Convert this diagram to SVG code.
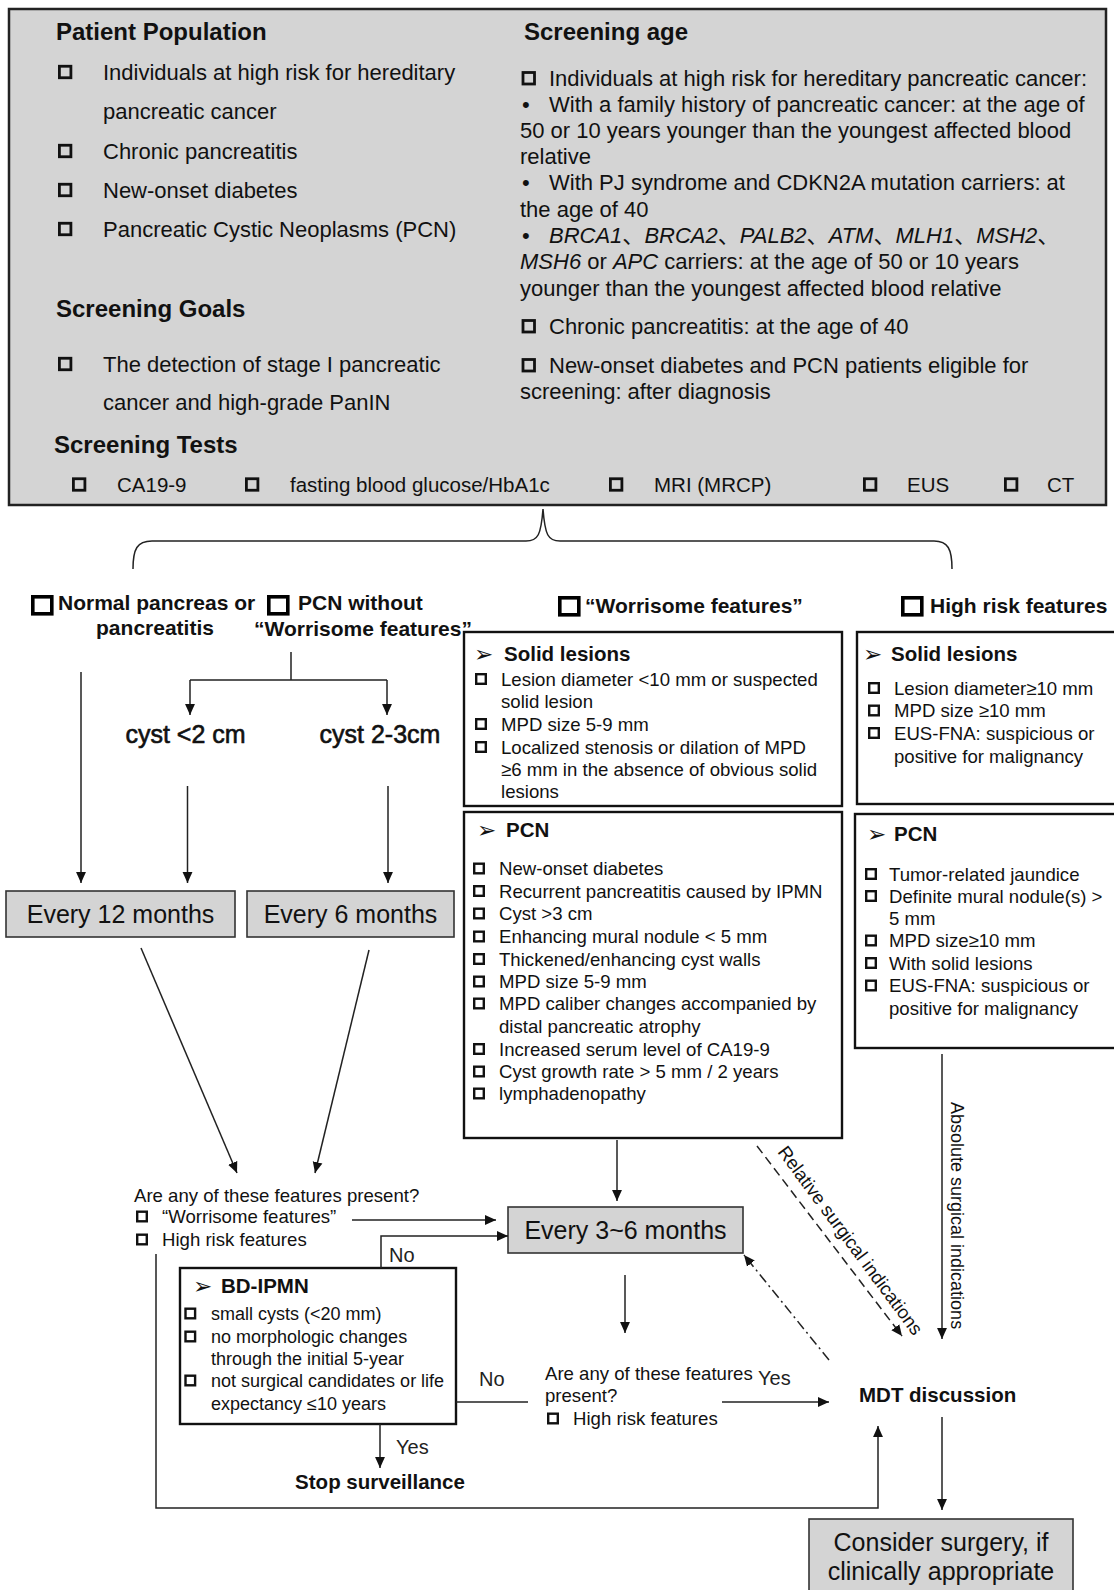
<svg xmlns="http://www.w3.org/2000/svg" xmlns:xlink="http://www.w3.org/1999/xlink" width="1114" height="1590" viewBox="0 0 1114 1590">
<style>
text{font-family:"Liberation Sans",Arial,"Noto Sans CJK SC",sans-serif;fill:#111}
.hb{font-weight:bold;font-size:24px}
.p22{font-size:22px}
.p20{font-size:20.5px}
.cat{font-weight:bold;font-size:21px}
.f{font-size:18.6px}
.f18{font-size:18px}
.fh{font-weight:bold;font-size:20.5px}
.big{font-size:25px}
.cy{font-size:25px;stroke:#111;stroke-width:0.6}
.lbl{font-size:20px;fill:#222}
.arr{font-family:"DejaVu Sans",sans-serif;font-size:23px}
.cb{fill:none;stroke:#111;stroke-width:2.8}
.cs{fill:none;stroke:#111;stroke-width:2.4}
.cbig{fill:none;stroke:#000;stroke-width:3.6}
.fb{fill:#fff;stroke:#111;stroke-width:2.4}
.gb{fill:#d4d4d4;stroke:#333;stroke-width:1.6}
.ln{fill:none;stroke:#222;stroke-width:1.5}
.it{font-style:italic}
.mid{text-anchor:middle}
</style>
<defs>
<marker id="ah" viewBox="0 0 10 10" refX="10" refY="5" markerWidth="11" markerHeight="11" markerUnits="userSpaceOnUse" orient="auto">
<path d="M0,0.5 L10,5 L0,9.5 z" fill="#111"/>
</marker>
<rect id="cs" width="9.6" height="9.6" class="cs"/>
<rect id="ct" width="11.5" height="11.5" class="cb"/>
<rect id="cg" width="19" height="17" class="cbig"/>
</defs>

<g id="top-box">
<rect x="9" y="9" width="1097" height="496" fill="#d4d4d4" stroke="#222" stroke-width="2.5"/>
<text x="56" y="40" class="hb">Patient Population</text>
<use href="#ct" x="59.4" y="66.25"/>
<text x="103" y="80" class="p22">Individuals at high risk for hereditary</text>
<text x="103" y="119" class="p22">pancreatic cancer</text>
<use href="#ct" x="59.4" y="145.25"/>
<text x="103" y="159" class="p22">Chronic pancreatitis</text>
<use href="#ct" x="59.4" y="184.25"/>
<text x="103" y="198" class="p22">New-onset diabetes</text>
<use href="#ct" x="59.4" y="223.25"/>
<text x="103" y="237" class="p22">Pancreatic Cystic Neoplasms (PCN)</text>
<text x="56" y="317" class="hb">Screening Goals</text>
<use href="#ct" x="59.4" y="358.25"/>
<text x="103" y="372" class="p22">The detection of stage I pancreatic</text>
<text x="103" y="410" class="p22">cancer and high-grade PanIN</text>
<text x="54" y="453" class="hb">Screening Tests</text>
<use href="#ct" x="73.4" y="478.75"/>
<text x="117" y="492" class="p20">CA19-9</text>
<use href="#ct" x="246.4" y="478.75"/>
<text x="290" y="492" class="p20">fasting blood glucose/HbA1c</text>
<use href="#ct" x="610.4" y="478.75"/>
<text x="654" y="492" class="p20">MRI (MRCP)</text>
<use href="#ct" x="864.4" y="478.75"/>
<text x="907" y="492" class="p20">EUS</text>
<use href="#ct" x="1005.4" y="478.75"/>
<text x="1047" y="492" class="p20">CT</text>

<text x="524" y="40" class="hb">Screening age</text>
<use href="#ct" x="523" y="72.5"/>
<text x="549" y="86" class="p22">Individuals at high risk for hereditary pancreatic cancer:</text>
<text x="522" y="112" class="p22">•</text>
<text x="549" y="112" class="p22">With a family history of pancreatic cancer: at the age of</text>
<text x="520" y="138" class="p22">50 or 10 years younger than the youngest affected blood</text>
<text x="520" y="164" class="p22">relative</text>
<text x="522" y="190" class="p22">•</text>
<text x="549" y="190" class="p22">With PJ syndrome and CDKN2A mutation carriers: at</text>
<text x="520" y="217" class="p22">the age of 40</text>
<text x="522" y="243" class="p22">•</text>
<text x="549" y="243" class="p22"><tspan class="it">BRCA1</tspan>、<tspan class="it">BRCA2</tspan>、<tspan class="it">PALB2</tspan>、<tspan class="it">ATM</tspan>、<tspan class="it">MLH1</tspan>、<tspan class="it">MSH2</tspan>、</text>
<text x="520" y="269" class="p22"><tspan class="it">MSH6</tspan> or <tspan class="it">APC</tspan> carriers: at the age of 50 or 10 years</text>
<text x="520" y="296" class="p22">younger than the youngest affected blood relative</text>
<use href="#ct" x="523" y="320.5"/>
<text x="549" y="334" class="p22">Chronic pancreatitis: at the age of 40</text>
<use href="#ct" x="523" y="359.5"/>
<text x="549" y="373" class="p22">New-onset diabetes and PCN patients eligible for</text>
<text x="520" y="399" class="p22">screening: after diagnosis</text>
</g>

<g id="cat-normal">
<use href="#cg" x="32.8" y="596.8"/>
<text x="58" y="610" class="cat">Normal pancreas or</text>
<text x="155" y="635" class="cat mid">pancreatitis</text>
</g>
<g id="cat-pcn-without">
<use href="#cg" x="268.8" y="596.8"/>
<text x="298" y="610" class="cat">PCN without</text>
<text x="363" y="636" class="cat mid">“Worrisome features”</text>
</g>
<g id="cat-worrisome">
<use href="#cg" x="559.8" y="597.8"/>
<text x="585" y="613" class="cat">“Worrisome features”</text>
</g>
<g id="cat-highrisk">
<use href="#cg" x="902.8" y="597.8"/>
<text x="930" y="613" class="cat">High risk features</text>
</g>

<g id="cyst-small"><text x="185.5" y="743" class="cy mid">cyst &lt;2 cm</text></g>
<g id="cyst-mid"><text x="380" y="743" class="cy mid">cyst 2-3cm</text></g>

<g id="w-solid">
<rect x="464" y="632" width="378" height="174" class="fb"/>
<text x="474" y="662" class="arr">➢</text>
<text x="504" y="661" class="fh">Solid lesions</text>
<use href="#cs" x="476.2" y="674.2"/>
<text x="501" y="685.5" class="f">Lesion diameter &lt;10 mm or suspected</text>
<text x="501" y="708" class="f">solid lesion</text>
<use href="#cs" x="476.2" y="719.2"/>
<text x="501" y="730.5" class="f">MPD size 5-9 mm</text>
<use href="#cs" x="476.2" y="742.2"/>
<text x="501" y="753.5" class="f">Localized stenosis or dilation of MPD</text>
<text x="501" y="775.5" class="f">≥6 mm in the absence of obvious solid</text>
<text x="501" y="798" class="f">lesions</text>
</g>

<g id="w-pcn">
<rect x="464" y="812" width="378" height="326" class="fb"/>
<text x="477" y="838" class="arr">➢</text>
<text x="506" y="837" class="fh">PCN</text>
<use href="#cs" x="474.2" y="863.7"/>
<text x="499" y="875" class="f">New-onset diabetes</text>
<use href="#cs" x="474.2" y="886.2"/>
<text x="499" y="897.5" class="f">Recurrent pancreatitis caused by IPMN</text>
<use href="#cs" x="474.2" y="908.7"/>
<text x="499" y="920" class="f">Cyst &gt;3 cm</text>
<use href="#cs" x="474.2" y="931.7"/>
<text x="499" y="943" class="f">Enhancing mural nodule &lt; 5 mm</text>
<use href="#cs" x="474.2" y="954.2"/>
<text x="499" y="965.5" class="f">Thickened/enhancing cyst walls</text>
<use href="#cs" x="474.2" y="976.7"/>
<text x="499" y="988" class="f">MPD size 5-9 mm</text>
<use href="#cs" x="474.2" y="998.7"/>
<text x="499" y="1010" class="f">MPD caliber changes accompanied by</text>
<text x="499" y="1032.5" class="f">distal pancreatic atrophy</text>
<use href="#cs" x="474.2" y="1044.2"/>
<text x="499" y="1055.5" class="f">Increased serum level of CA19-9</text>
<use href="#cs" x="474.2" y="1066.7"/>
<text x="499" y="1078" class="f">Cyst growth rate &gt; 5 mm / 2 years</text>
<use href="#cs" x="474.2" y="1088.7"/>
<text x="499" y="1100" class="f">lymphadenopathy</text>
</g>

<g id="h-solid">
<rect x="857" y="632" width="262" height="172" class="fb"/>
<text x="863" y="662" class="arr">➢</text>
<text x="891" y="661" class="fh">Solid lesions</text>
<use href="#cs" x="869.2" y="683.2"/>
<text x="894" y="694.5" class="f">Lesion diameter≥10 mm</text>
<use href="#cs" x="869.2" y="705.7"/>
<text x="894" y="717" class="f">MPD size ≥10 mm</text>
<use href="#cs" x="869.2" y="728.2"/>
<text x="894" y="739.5" class="f">EUS-FNA: suspicious or</text>
<text x="894" y="762.5" class="f">positive for malignancy</text>
</g>

<g id="h-pcn">
<rect x="855" y="814" width="264" height="234" class="fb"/>
<text x="867" y="842" class="arr">➢</text>
<text x="894" y="841" class="fh">PCN</text>
<use href="#cs" x="866.2" y="869.2"/>
<text x="889" y="880.5" class="f">Tumor-related jaundice</text>
<use href="#cs" x="866.2" y="891.2"/>
<text x="889" y="902.5" class="f">Definite mural nodule(s) &gt;</text>
<text x="889" y="925" class="f">5 mm</text>
<use href="#cs" x="866.2" y="935.7"/>
<text x="889" y="947" class="f">MPD size≥10 mm</text>
<use href="#cs" x="866.2" y="958.2"/>
<text x="889" y="969.5" class="f">With solid lesions</text>
<use href="#cs" x="866.2" y="980.7"/>
<text x="889" y="992" class="f">EUS-FNA: suspicious or</text>
<text x="889" y="1015" class="f">positive for malignancy</text>
</g>

<g id="every12">
<rect x="6" y="891" width="229" height="46" class="gb"/>
<text x="120.5" y="923" class="big mid">Every 12 months</text>
</g>
<g id="every6">
<rect x="247" y="891" width="207" height="46" class="gb"/>
<text x="350.5" y="923" class="big mid">Every 6 months</text>
</g>

<g id="question1">
<text x="134" y="1202" class="f">Are any of these features present?</text>
<use href="#cs" x="137.2" y="1211.7"/>
<text x="162" y="1223" class="f">“Worrisome features”</text>
<use href="#cs" x="137.2" y="1234.7"/>
<text x="162" y="1246" class="f">High risk features</text>
</g>

<g id="every3-6">
<rect x="508" y="1207" width="235" height="46" class="gb"/>
<text x="625.5" y="1239" class="big mid">Every 3~6 months</text>
</g>

<g id="bd-ipmn">
<rect x="180" y="1268" width="276" height="156" class="fb"/>
<text x="193" y="1294" class="arr">➢</text>
<text x="221" y="1293" class="fh">BD-IPMN</text>
<use href="#cs" x="185.5" y="1308.7"/>
<text x="211" y="1320" class="f18">small cysts (&lt;20 mm)</text>
<use href="#cs" x="185.5" y="1331.7"/>
<text x="211" y="1343" class="f18">no morphologic changes</text>
<text x="211" y="1365" class="f18">through the initial 5-year</text>
<use href="#cs" x="185.5" y="1375.7"/>
<text x="211" y="1387" class="f18">not surgical candidates or life</text>
<text x="211" y="1410" class="f18">expectancy ≤10 years</text>
</g>

<g id="stop">
<text x="380" y="1489" class="fh mid">Stop surveillance</text>
</g>

<g id="question2">
<text x="545" y="1380" class="f">Are any of these features</text>
<text x="545" y="1402" class="f">present?</text>
<use href="#cs" x="548.2" y="1413.7"/>
<text x="573" y="1425" class="f">High risk features</text>
</g>

<g id="mdt">
<text x="859" y="1402" class="fh">MDT discussion</text>
</g>

<g id="surgery">
<rect x="809" y="1519" width="264" height="80" class="gb"/>
<text x="941" y="1551" class="big mid">Consider surgery, if</text>
<text x="941" y="1580" class="big mid">clinically appropriate</text>
</g>

<g id="connectors" class="ln">
<path d="M133,569 C133,549 137,541 152,541 L526,541 C538,541 541,535 543,509 C545,535 548,541 560,541 L934,541 C948,541 952,549 952,569"/>
<path d="M291,652 L291,680 M190,680 L387,680"/>
<path d="M190,680 L190,715" marker-end="url(#ah)"/>
<path d="M387,680 L387,715" marker-end="url(#ah)"/>
<path d="M81,672 L81,883" marker-end="url(#ah)"/>
<path d="M187.5,786 L187.5,883" marker-end="url(#ah)"/>
<path d="M388,786 L388,883" marker-end="url(#ah)"/>
<path d="M141,948 L237,1173" marker-end="url(#ah)"/>
<path d="M369,950 L315,1173" marker-end="url(#ah)"/>
<path d="M352,1220 L496,1220" marker-end="url(#ah)"/>
<path d="M381,1268 L381,1236 L508,1236" marker-end="url(#ah)"/>
<path d="M617,1140 L617,1201" marker-end="url(#ah)"/>
<path d="M625,1275 L625,1333" marker-end="url(#ah)"/>
<path d="M156,1254 L156,1508 L878,1508 L878,1426" marker-end="url(#ah)"/>
<path d="M380,1424 L380,1468" marker-end="url(#ah)"/>
<path d="M456,1402 L528,1402"/>
<path d="M722,1402 L829,1402" marker-end="url(#ah)"/>
<path d="M829,1360 L744,1255" stroke-dasharray="10,4,2,4" marker-end="url(#ah)"/>
<path d="M757,1146 L902,1336" stroke-dasharray="9,5" marker-end="url(#ah)"/>
<path d="M942,1054 L942,1339" marker-end="url(#ah)"/>
<path d="M942,1417 L942,1510" marker-end="url(#ah)"/>
</g>

<g id="connector-labels">
<text x="389" y="1262" class="lbl">No</text>
<text x="396" y="1454" class="lbl">Yes</text>
<text x="479" y="1386" class="lbl">No</text>
<text x="758" y="1385" class="lbl">Yes</text>
<text class="f" transform="translate(777,1152) rotate(53.5)">Relative surgical indications</text>
<text class="f18" transform="translate(951,1102) rotate(90)">Absolute surgical indications</text>
</g>
</svg>
